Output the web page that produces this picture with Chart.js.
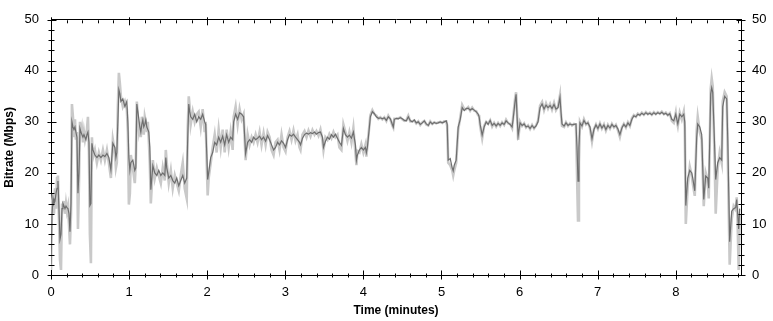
<!DOCTYPE html>
<html>
<head>
<meta charset="utf-8">
<script src="https://cdn.jsdelivr.net/npm/chart.js@4.4.1/dist/chart.umd.min.js"></script>
<style>
  html, body { margin: 0; padding: 0; background: #ffffff; }
  #wrap { width: 773px; height: 321px; }
</style>
</head>
<body>
<div id="wrap"><canvas id="c" width="773" height="321"></canvas></div>
<script>
// Time in minutes
const timeMin = [
0,.013,.026,.038,.051,.064,.077,.089,.102,.115,.128,.141,.153,.166,.179,.192,.204,.217,.230,.243,.256,.268,.281,.294,.307,.319,.332,.345,.358,.371,.383,.396,.409,.422,.435,.447,.460,.473,.486,.498,.511,.524,.537,
.562,.588,.613,.639,.665,.690,.716,.741,.767,.792,.818,.831,.843,.856,.869,.882,.895,.920,.946,.971,.984,.997,1.010,1.022,1.048,1.073,1.086,
1.099,1.112,1.125,1.137,1.150,1.163,1.176,1.188,1.201,1.214,1.227,1.240,1.252,1.265,1.278,1.291,1.304,1.329,1.355,1.380,1.406,1.431,1.457,1.470,1.482,
1.508,1.534,1.559,1.585,1.610,1.636,1.661,1.687,1.712,1.738,1.751,1.764,1.776,1.789,1.815,1.840,1.866,1.891,1.917,1.942,1.968,1.981,1.994,2.006,2.019,
2.045,2.070,2.096,2.121,2.147,2.173,2.198,2.224,2.249,2.275,2.300,2.326,2.339,2.364,2.390,2.415,2.441,2.466,2.492,2.518,2.543,2.569,2.594,2.620,2.645,
2.671,2.696,2.722,2.748,2.773,2.799,2.824,2.850,2.875,2.901,2.926,2.952,2.978,3.003,3.029,3.054,3.080,3.105,3.131,3.157,3.182,3.195,3.220,3.246,3.272,
3.297,3.323,3.348,3.374,3.399,3.425,3.450,3.476,3.489,3.514,3.540,3.565,3.591,3.617,3.642,3.668,3.693,3.719,3.744,3.770,3.796,3.821,3.847,3.872,3.898,
3.911,3.923,3.949,3.974,4.000,4.026,4.038,4.051,4.077,4.089,4.115,4.141,4.166,4.192,4.217,4.243,4.268,4.294,4.319,4.345,4.371,4.383,4.396,4.422,4.447,
4.473,4.498,4.524,4.550,4.575,4.601,4.626,4.652,4.677,4.703,4.728,4.754,4.780,4.805,4.831,4.856,4.882,4.907,4.933,4.958,4.984,5.010,5.035,5.061,5.073,
5.086,5.112,5.137,5.150,5.163,5.188,5.214,5.240,5.265,5.291,5.316,5.342,5.367,5.393,5.419,5.444,5.470,5.482,5.495,5.521,5.546,5.572,5.597,5.623,5.649,
5.674,5.700,5.725,5.751,5.776,5.802,5.827,5.853,5.879,5.904,5.917,5.942,5.955,5.968,5.981,6.006,6.032,6.058,6.083,6.109,6.134,6.160,6.185,6.211,6.236,
6.262,6.288,6.313,6.339,6.364,6.390,6.415,6.441,6.466,6.492,6.517,6.530,6.543,6.569,6.594,6.620,6.645,6.671,6.696,6.722,6.735,6.748,6.760,6.773,6.799,
6.824,6.850,6.875,6.901,6.927,6.952,6.978,7.003,7.029,7.054,7.080,7.105,7.131,7.157,7.182,7.208,7.233,7.259,7.284,7.310,7.335,7.361,7.387,7.412,7.438,
7.463,7.489,7.514,7.540,7.565,7.591,7.617,7.642,7.668,7.693,7.719,7.744,7.770,7.796,7.821,7.847,7.872,7.898,7.923,7.949,7.974,8.000,8.013,8.026,8.051,
8.077,8.102,8.115,8.128,8.153,8.179,8.204,8.217,8.243,8.268,8.281,8.307,8.332,8.358,8.383,8.409,8.422,8.447,8.460,8.473,8.498,8.511,8.537,8.562,8.588,
8.601,8.626,8.652,8.665,8.690,8.716,8.741,8.767,8.780,8.792,8.805,8.818
];

// Smoothed bitrate (Mbps) - dark line
const smoothed = [
2,12,15,14,14.5,16,17,18.4,13,7,8,13,14,13.5,13,13.5,13.2,13,12,8.5,14,30,29,28.5,29,28,27,16,20,28.7,28,27.5,27,27.5,27,26.5,27.5,28,26,13.6,14,25.8,24.5,
23.5,23,23.5,23,23.5,23.2,23.8,23,20.6,25.8,25,23,24,30,36.3,35.5,34,34.5,33,34,30,23,20.5,22,22.5,20.5,21,
33.5,32,30.5,29,28,29.5,30.4,29,29.5,30.4,29,28.5,28,25,16.7,19,21.4,20,19.5,20.5,19.5,20,19.5,23,21,
19,19.5,18.5,18,19,17.5,18.5,19.5,18,19,27,33.5,32,31,30.5,31.5,30,31,30.5,31.5,30,29.5,24,18.7,20,
23,24,26,25.5,27,26,27.2,25.5,27.5,26,27,26.5,30,31.5,30.5,31.8,31.5,31,23.8,26,26.5,26,27,26.5,26.8,
27.2,26.5,27,26.2,27.3,26.5,25.5,24.5,25,26,25.5,26.3,25.8,25,26.5,27.5,27.2,27.6,27,26.5,26,25.5,26.8,27.5,27.8,
27.6,27.9,27.7,28,27.6,27.9,28,27,25,26.2,27,26.6,27.5,27,27.6,26.8,26,25.4,28.7,27.5,27,27.4,26.8,28,25.5,
22.5,23.5,24.5,25,24.5,25,24,25,29,31,32,31.6,31,30.7,30.8,30.6,30.8,30.3,31,30.6,29.5,29,30.5,30.7,30.6,
30.8,30.6,30.3,30.2,31,30.2,30,30.4,29.8,30,29.5,29.8,30.2,29.6,29.3,30,29.6,29.9,29.7,29.8,30,29.8,30,30.2,29.5,
22.5,22.8,21,20.4,21.5,22.5,29,30.5,32.8,32.2,32.6,32.7,32.3,32.6,32.3,32,31.5,31,29.5,27.4,29,30,29.5,30.3,29.3,
29.7,29.2,29.7,29.3,29.8,29.5,30.2,29.8,29.5,29,30.5,34,35.4,31,27.3,29.8,29.3,29.6,29,29.2,28.7,29.3,28.8,29.2,30,
32.8,33.5,32.5,33.3,32.8,33.2,32.6,33.4,32.5,32.8,34.8,32,29.6,29.2,29.8,29.3,29.6,29.4,29.5,29.6,25,18.4,25,29.8,29.2,
30.3,29.6,29.8,29,26.7,28.5,29.4,28.7,29.6,28.8,29.4,28.5,29.3,28.8,29.5,29,29.3,28.6,27.5,28.8,29.5,29,29.8,29.3,30.5,
31.2,31,31.5,31.3,31.7,31.4,31.8,31.5,31.7,31.4,31.8,31.5,31.8,31.6,31.9,31.5,31.7,31.3,31.6,30.5,30.2,31.5,30.5,29.6,31.5,
31,31.5,30,13.6,19,20.5,20,19,16.5,27,29.6,29,27.5,14.8,19.4,19,17,35.5,36.7,35.8,25,18.7,22,23,22.5,
33,35,34.5,27,6.5,12.5,13,13.2,14.8,12,9,13
];

// Raw bitrate (Mbps) - light line
const raw = [
1,14,16,12,17,13,19,19.5,11,3,1,14,12.5,14.5,12,14,12.5,13.5,10,6,12,33.5,31,27,30.5,26.5,28,9,18,30,27,28.5,26,28,26.5,27.5,28.5,31,24,8,2.3,27,23,
24.5,22,24,22.5,24.5,22.5,24.5,22,19,26.5,24,21,22,33,39.6,37.5,35,33,34,32.5,28,13.8,16,23.5,21,18,22,
34,31,28.5,30,27,31,29.5,27.5,31,30,28,30,26.5,22,14,17.5,22.5,19,21,19.5,18,21,18.5,24.5,22,
18,20.5,17,19.5,18,16.5,19.5,22,17,15,29,35,33,29.5,32,30,31.5,32,29,32.5,28,30,22,15.6,19,
22,25,27.5,24,28.5,25,28.5,24,28.5,25,28,24.5,31,33,29.5,32.5,30.5,31.5,22.5,27.5,25.5,27,26,27.5,26,
28,25.5,27.8,25.5,28,27,24.5,23.5,26,26.5,24.5,27.5,25,24.2,27,28.2,26.5,28.3,26.3,27.5,25,24.5,27.5,28.2,27,
28.3,27.2,28.4,27.5,28.2,27.3,28.5,26.3,24.5,27,26.5,27.6,26.8,28,27,27.5,25,24.5,29.5,28,26.3,28,26,28.8,24,
21.5,24.3,24,25.6,24,25.5,23.2,25.3,29.3,31.3,32.3,31.5,31.2,30.6,30.9,30.5,30.9,30.2,31.2,30.5,29.3,28.9,30.6,30.6,30.7,
30.9,30.5,30.2,30.3,31.2,30.1,30.1,30.3,29.7,30.1,29.4,29.9,30.2,29.5,29.3,30.1,29.6,29.9,29.7,29.9,30,29.8,30.1,30.1,29.2,
22,21.5,20.5,19.5,20.5,22,28.5,30.8,33.3,32.5,32.5,32.9,32.2,32.8,32.2,32.1,31.3,31.2,29.2,26.8,29.2,30,29.6,30.3,29.1,
29.8,29.1,29.8,29.2,29.9,29.4,30.4,29.7,29.6,28.8,30.8,34.5,35.8,31.5,26.5,30,29.2,29.7,28.9,29.3,28.6,29.4,28.7,29.3,30.2,
33.2,33.9,32.3,33.6,32.6,33.5,32.4,33.7,32.3,33,35.2,31.5,29.2,29,29.9,29.2,29.7,29.3,29.6,29.5,20,10.7,22,30,29.1,
30.5,29.5,29.9,28.8,26.2,28.6,29.5,28.6,29.7,28.7,29.5,28.3,29.4,28.7,29.6,28.9,29.4,28.4,27.1,28.9,29.6,28.9,29.9,29.2,30.7,
31.3,31,31.6,31.3,31.8,31.4,31.9,31.5,31.8,31.4,31.9,31.5,31.9,31.6,32,31.5,31.8,31.3,31.7,30.2,29.8,31.8,30.2,29.2,31.8,
30.5,32,29,10,17.5,21.2,19.5,18,15.5,28.5,31,28,26.5,13.5,20,18.5,15,36.5,38.5,37,22,12,21,24,22,
34,35.8,35,24,2,11,13.5,12.8,15.2,10,1,12
];

const yTickValues = [0, 10, 20, 30, 40, 50];
const xTickValues = [0, 1, 2, 3, 4, 5, 6, 7, 8];
const xMax = 8.835;

const tickFont = { family: 'Liberation Sans, Arial, sans-serif', size: 13 };
const titleFont = { family: 'Liberation Sans, Arial, sans-serif', size: 12, weight: 'bold' };

const axisTicks = {
  id: 'axisTicks',
  afterDraw(chart) {
    const ctx = chart.ctx, a = chart.chartArea;
    const xs = chart.scales.x, ys = chart.scales.y;
    const L = a.left + 0.5, R = a.right - 0.5, T = a.top + 0.5, B = a.bottom - 0.5;
    ctx.save();
    ctx.strokeStyle = '#000';
    ctx.lineWidth = 1;
    ctx.beginPath();
    for (let i = 0; i * 0.2 <= xMax + 1e-9; i++) {
      const v = i * 0.2;
      const major = i % 5 === 0;
      const px = Math.round(xs.getPixelForValue(v)) + 0.5;
      if (major) {
        ctx.moveTo(px, B - 4); ctx.lineTo(px, B + 5);
        ctx.moveTo(px, T - 3); ctx.lineTo(px, T + 5);
      } else {
        ctx.moveTo(px, B - 1); ctx.lineTo(px, B + 3);
        ctx.moveTo(px, T); ctx.lineTo(px, T + 3);
      }
    }
    for (let i = 0; i <= 25; i++) {
      const v = i * 2;
      const major = i % 5 === 0;
      const py = Math.round(ys.getPixelForValue(v)) + 0.5;
      if (major) {
        ctx.moveTo(L - 4, py); ctx.lineTo(L + 5, py);
        ctx.moveTo(R - 4, py); ctx.lineTo(R + 5, py);
      } else {
        ctx.moveTo(L - 3, py); ctx.lineTo(L + 3, py);
        ctx.moveTo(R - 2, py); ctx.lineTo(R + 4, py);
      }
    }
    ctx.stroke();
    ctx.restore();
  }
};

const pts = (ys) => timeMin.map((t, i) => ({ x: t, y: ys[i] }));

new Chart(document.getElementById('c'), {
  type: 'line',
  data: {
    datasets: [
      { label: 'Bitrate (smoothed)', data: pts(smoothed), borderColor: '#6e6e6e', borderWidth: 1.2,
        pointRadius: 0, tension: 0, fill: false, order: 0 },
      { label: 'Bitrate', data: pts(raw), borderColor: '#c9c9c9', borderWidth: 2.6,
        pointRadius: 0, tension: 0, fill: false, order: 1 }
    ]
  },
  options: {
    responsive: false,
    devicePixelRatio: 1,
    animation: false,
    layout: { padding: 0 },
    plugins: { legend: { display: false }, tooltip: { enabled: false } },
    scales: {
      x: {
        type: 'linear', position: 'bottom', min: 0, max: xMax,
        grid: { display: false, drawTicks: false },
        border: { display: true, color: '#000', width: 1 },
        ticks: { stepSize: 1, font: tickFont, color: '#000', padding: 10, maxRotation: 0, autoSkip: false },
        afterBuildTicks: (s) => { s.ticks = xTickValues.map(v => ({ value: v })); },
        title: { display: true, text: 'Time (minutes)', font: titleFont, color: '#000', padding: { top: 0, bottom: 3 } },
        afterFit: (s) => { s.height = 46; }
      },
      x2: {
        type: 'linear', position: 'top', min: 0, max: xMax,
        grid: { display: false, drawTicks: false },
        border: { display: true, color: '#000', width: 1 },
        ticks: { display: false },
        afterFit: (s) => { s.height = 14; }
      },
      y: {
        type: 'linear', position: 'left', min: 0, max: 50,
        grid: { display: false, drawTicks: false },
        border: { display: true, color: '#000', width: 1 },
        ticks: { stepSize: 10, font: tickFont, color: '#000', padding: 12 },
        afterBuildTicks: (s) => { s.ticks = yTickValues.map(v => ({ value: v })); },
        title: { display: true, text: 'Bitrate (Mbps)', font: titleFont, color: '#000', padding: { top: 2, bottom: 0 } },
        afterFit: (s) => { s.width = 51; }
      },
      y2: {
        type: 'linear', position: 'right', min: 0, max: 50,
        grid: { display: false, drawTicks: false },
        border: { display: true, color: '#000', width: 1 },
        ticks: { stepSize: 10, font: tickFont, color: '#000', padding: 11 },
        afterBuildTicks: (s) => { s.ticks = yTickValues.map(v => ({ value: v })); },
        afterFit: (s) => { s.width = 32; }
      }
    }
  },
  plugins: [axisTicks]
});
</script>
</body>
</html>
